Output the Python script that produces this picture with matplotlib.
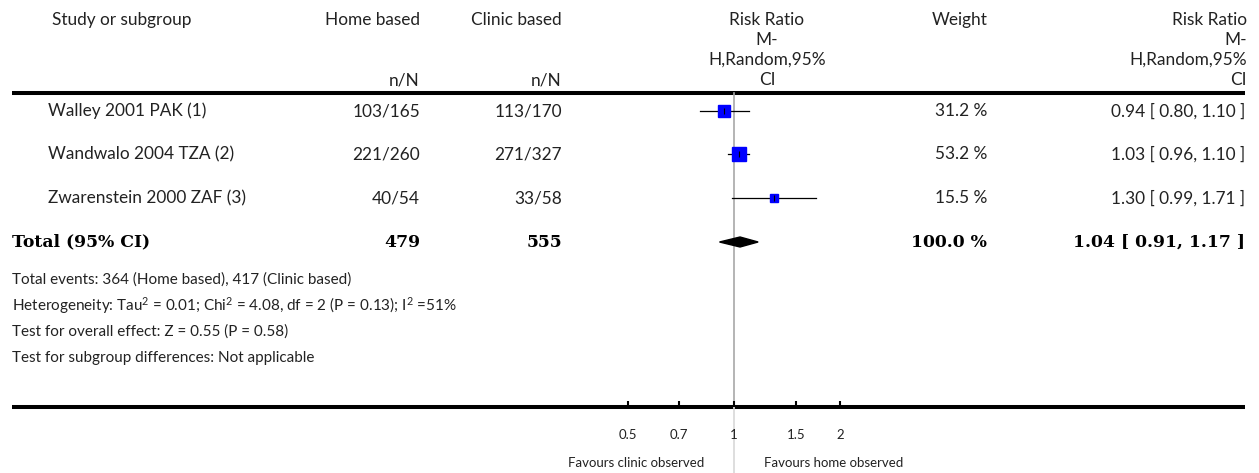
import numpy as np
import matplotlib
matplotlib.use("Agg")
import matplotlib.pyplot as plt
from matplotlib.transforms import offset_copy

# study level data
studies = ["Walley 2001 PAK (1)", "Wandwalo 2004 TZA (2)", "Zwarenstein 2000 ZAF (3)"]
home_events = [103, 221, 40]
home_total = [165, 260, 54]
clinic_events = [113, 271, 33]
clinic_total = [170, 327, 58]
weights = [31.2, 53.2, 15.5]
rr = [0.94, 1.03, 1.30]
rr_low = [0.80, 0.96, 0.99]
rr_high = [1.10, 1.10, 1.71]

# pooled estimate
total_home = 479
total_clinic = 555
total_weight = 100.0
total_rr = 1.04
total_low = 0.91
total_high = 1.17

footer = [
    "Total events: 364 (Home based), 417 (Clinic based)",
    r"Heterogeneity: Tau$^\mathregular{2}$ = 0.01; Chi$^\mathregular{2}$ = 4.08, df = 2 (P = 0.13); I$^\mathregular{2}$ =51%",
    "Test for overall effect: Z = 0.55 (P = 0.58)",
    "Test for subgroup differences: Not applicable",
]

tick_vals = [0.5, 0.7, 1, 1.5, 2]
tick_labels = ["0.5", "0.7", "1", "1.5", "2"]

W, H = 1259, 473
SANS = ["Lato", "DejaVu Sans"]
SERIF = ["DejaVu Serif"]
TXT = "#222222"
FS = 12.4
FS_BOLD = 12.4

plt.rcParams["mathtext.fontset"] = "custom"
plt.rcParams["mathtext.rm"] = "Lato"
plt.rcParams["mathtext.it"] = "Lato:italic"
plt.rcParams["mathtext.bf"] = "Lato:bold"

fig = plt.figure(figsize=(W / 100, H / 100), dpi=100)

# table layer in pixel units
tab = fig.add_axes([0, 0, 1, 1])
tab.set_xlim(0, W)
tab.set_ylim(H, 0)
tab.axis("off")

# forest layer: log x, 1.0 at px 734, ~153.6 px per log unit
ax = fig.add_axes([0, 0, 1, 1], facecolor="none")
x_one, px_per = 734, 153.6
ax.set_xscale("log")
ax.set_xlim(np.exp(-x_one / px_per), np.exp((W - x_one) / px_per))
ax.set_ylim(H, 0)
ax.axis("off")

def t(x, y, s, ha="left", size=FS, bold=False):
    if bold:
        tab.text(x, y, s, ha=ha, va="center", fontsize=size, family=SERIF,
                 fontweight="bold", color="black")
    else:
        tab.text(x, y, s, ha=ha, va="center", fontsize=size, family=SANS, color=TXT)

# headers
hy = [20, 40, 60, 80]
t(122, hy[0], "Study or subgroup", ha="center")
t(420, hy[0], "Home based", ha="right")
t(562, hy[0], "Clinic based", ha="right")
t(420, hy[3], "n/N", ha="right")
t(562, hy[3], "n/N", ha="right")
for y, s in zip(hy, ["Risk Ratio", "M-", "H,Random,95%", "CI"]):
    t(767, y, s, ha="center")
    t(1247, y, s, ha="right")
t(960, hy[0], "Weight", ha="center")

# rules
tab.plot([12, 1245], [93, 93], color="black", lw=2.9, solid_capstyle="butt")
tab.plot([12, 1245], [407, 407], color="black", lw=2.9, solid_capstyle="butt")

row_y = [111, 154, 198]
tot_y = 242

for i, y in enumerate(row_y):
    t(48, y, studies[i])
    t(420, y, f"{home_events[i]}/{home_total[i]}", ha="right")
    t(562, y, f"{clinic_events[i]}/{clinic_total[i]}", ha="right")
    t(987, y, f"{weights[i]:.1f} %", ha="right")
    t(1245, y, f"{rr[i]:.2f} [ {rr_low[i]:.2f}, {rr_high[i]:.2f} ]", ha="right")

t(12, tot_y, "Total (95% CI)", size=FS_BOLD, bold=True)
t(420, tot_y, f"{total_home}", ha="right", size=FS_BOLD, bold=True)
t(562, tot_y, f"{total_clinic}", ha="right", size=FS_BOLD, bold=True)
t(987, tot_y, f"{total_weight:.1f} %", ha="right", size=FS_BOLD, bold=True)
t(1245, tot_y, f"{total_rr:.2f} [ {total_low:.2f}, {total_high:.2f} ]", ha="right",
  size=FS_BOLD, bold=True)

for y, s in zip([280, 306, 332, 358], footer):
    t(12, y, s, size=11)

# line of no effect
ax.plot([1, 1], [93, 407], color="#a8a8a8", lw=1.2, zorder=1)
ax.plot([1, 1], [407, H], color="#d8d8d8", lw=1.2, zorder=1)

# confidence intervals and weighted squares
for i, y in enumerate(row_y):
    ax.plot([rr_low[i], rr_high[i]], [y, y], color="black", lw=0.9, zorder=2)
    side = 2.05 * np.sqrt(weights[i]) * 0.72
    ax.plot(rr[i], y, marker="s", ms=side, color="#0000ff", mec="#0000ff", zorder=3)
    ax.plot(rr[i], y, marker="|", ms=5, color="black", mew=0.8, zorder=4)

# pooled diamond
ax.fill([total_low, total_rr, total_high, total_rr],
        [tot_y, tot_y - 5, tot_y, tot_y + 5], color="black", zorder=3)

# axis ticks
ax.vlines(tick_vals, 401, 407, color="black", lw=1.5)
for v, s in zip(tick_vals, tick_labels):
    ax.text(v, 435, s, ha="center", va="center", fontsize=9.5, family=SANS, color=TXT)

left_lab = offset_copy(ax.transData, fig=fig, x=-30, y=0, units="dots")
right_lab = offset_copy(ax.transData, fig=fig, x=30, y=0, units="dots")
ax.text(1, 463, "Favours clinic observed", ha="right", va="center", fontsize=9.5,
        family=SANS, color=TXT, transform=left_lab)
ax.text(1, 463, "Favours home observed", ha="left", va="center", fontsize=9.5,
        family=SANS, color=TXT, transform=right_lab)

fig.savefig("out.png", dpi=100)
